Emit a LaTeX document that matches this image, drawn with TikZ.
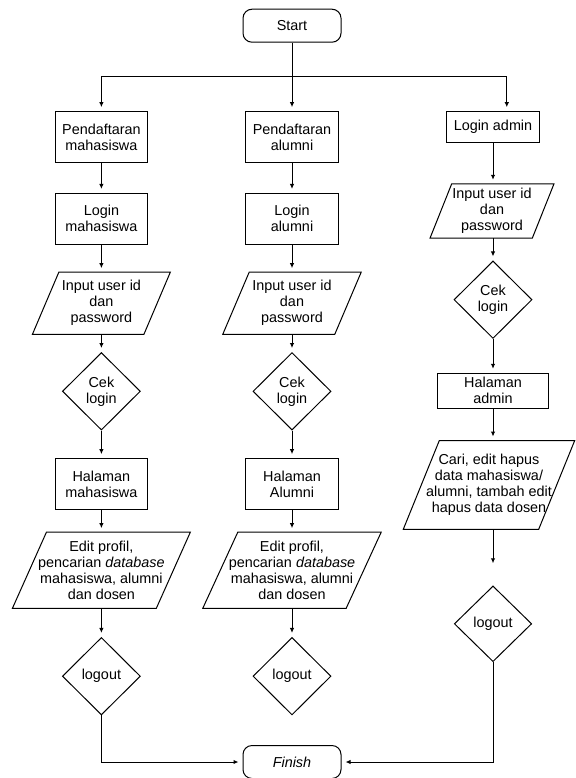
\documentclass[tikz,border=0pt]{standalone}
\usepackage{fontspec}
\setmainfont{Liberation Sans}
\usetikzlibrary{shapes.geometric,arrows.meta}
\newcommand{\parabox}[7]{%
  \node[minimum width=#4pt, minimum height=#5pt] (#1) at (#2,#3) {#7};
  \draw[line] ([xshift=#6pt]#1.north west) -- (#1.north east) -- ([xshift=-#6pt]#1.south east) -- (#1.south west) -- cycle;
}
\begin{document}
\begin{tikzpicture}[x=1pt,y=-1pt,
  every node/.style={font=\fontsize{14.4}{16}\selectfont, align=center, inner sep=0pt},
  line/.style={line width=1pt, draw=black},
  arr/.style={line, -{Latex[length=5pt,width=4.5pt]}, shorten >=4pt},
  procbox/.style={draw, line width=1pt, rectangle, minimum width=92.8pt, minimum height=50.7pt},
  term/.style={draw, line width=1pt, rounded corners=9pt, minimum width=98pt, minimum height=33pt},
  dec/.style={draw, line width=1pt, diamond, minimum width=78pt, minimum height=77.5pt},
]
\useasboundingbox (0,0) rectangle (575,778);

% Start
\node[term] (start) at (292,25.7) {Start};

% column 1
\node[procbox] (p1) at (101.4,137) {Pendaftaran\\mahasiswa};
\node[procbox] (l1) at (101.4,218.8) {Login\\mahasiswa};
\parabox{i1}{101.4}{303.2}{137.5}{61.7}{26.4}{Input user id\\dan\\password}
\node[dec] (d1) at (101.4,391.3) {Cek\\login};
\node[procbox] (h1) at (101.4,484) {Halaman\\mahasiswa};
\parabox{e1}{101.4}{570.2}{177.5}{75.7}{34}{Edit profil,\\pencarian \textit{database}\\mahasiswa, alumni\\dan dosen}
\node[dec] (o1) at (101.4,676.2) {logout};

% column 2
\node[procbox] (p2) at (292,137) {Pendaftaran\\alumni};
\node[procbox] (l2) at (292,218.8) {Login\\alumni};
\parabox{i2}{292}{303.2}{138}{61.7}{26.4}{Input user id\\dan\\password}
\node[dec] (d2) at (292,391.3) {Cek\\login};
\node[procbox] (h2) at (292,484) {Halaman\\Alumni};
\parabox{e2}{292}{570.2}{178}{75.7}{35}{Edit profil,\\pencarian \textit{database}\\mahasiswa, alumni\\dan dosen}
\node[dec] (o2) at (292,676.2) {logout};

% column 3
\node[procbox, minimum height=31pt] (la) at (493,127.2) {Login admin};
\parabox{i3}{492}{211}{123.6}{54}{21.7}{Input user id\\dan\\password}
\node[dec] (d3) at (493,299.7) {Cek\\login};
\node[procbox, minimum width=110.8pt, minimum height=35pt] (ha) at (493,390.8) {Halaman\\admin};
\parabox{ca}{489}{484.9}{171}{88.3}{36}{Cari, edit hapus\\data mahasiswa/\\alumni, tambah edit\\hapus data dosen}
\node[dec, minimum width=77.4pt, minimum height=75.7pt] (o3) at (493,623.8) {logout};

% Finish
\node[term] (fin) at (292,762) {\itshape Finish};

% bus from Start
\coordinate (busL) at (101.4,76.7);
\coordinate (busM) at (292,76.7);
\coordinate (busR) at (506.8,76.7);
\draw[line] (start) -- (busM);
\draw[line] (busL) -- (busR);
\draw[arr] (busL) -- (p1);
\draw[arr] (busM) -- (p2);
\draw[arr] (busR) -- (busR |- la.north);

% column 1 arrows
\draw[arr] (p1) -- (l1);
\draw[arr] (l1) -- (i1);
\draw[arr] (i1) -- (d1);
\draw[arr] (d1) -- (h1);
\draw[arr] (h1) -- (e1);
\draw[arr] (e1) -- (o1);
\draw[arr] (o1.south) |- (fin.west);

% column 2 arrows
\draw[arr] (p2) -- (l2);
\draw[arr] (l2) -- (i2);
\draw[arr] (i2) -- (d2);
\draw[arr] (d2) -- (h2);
\draw[arr] (h2) -- (e2);
\draw[arr] (e2) -- (o2);

% column 3 arrows
\coordinate (gap3) at (493,563.3);
\draw[arr] (la) -- (la |- i3.north);
\draw[arr] (la |- i3.south) -- (d3);
\draw[arr] (d3) -- (ha);
\draw[arr] (ha) -- (ha |- ca.north);
\draw[arr, shorten >=0pt] (ha |- ca.south) -- (gap3);
\draw[arr] (o3.south) |- (fin.east);
\end{tikzpicture}
\end{document}
